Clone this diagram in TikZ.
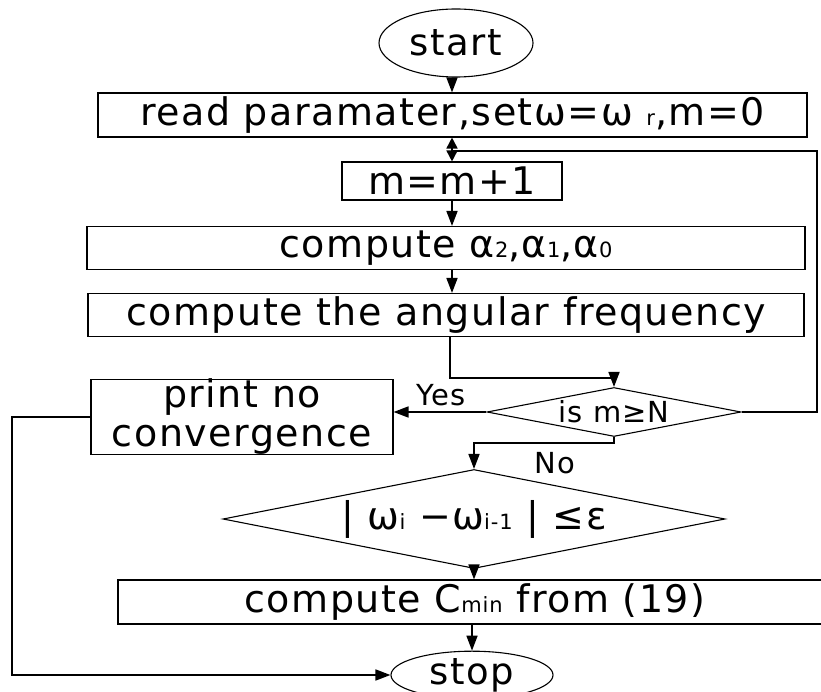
\documentclass[tikz,border=0pt]{standalone}
\usepackage{fontspec}
\setmainfont[LetterSpace=4]{DejaVu Sans}
\usetikzlibrary{shapes.geometric,arrows.meta}

% small lowered index text
\newcommand{\smidx}[1]{{\fontsize{21}{21}\selectfont #1}}

\begin{document}
\begin{tikzpicture}[x=1pt,y=-1pt,
  box/.style={draw, line width=1.1pt, rectangle, inner sep=0pt, align=center,
    font=\fontsize{38}{41}\selectfont},
  term/.style={draw, line width=1.1pt, ellipse, inner sep=0pt,
    font=\fontsize{37}{40}\selectfont},
  decide/.style={draw, line width=1.1pt, diamond, inner sep=0pt},
  flow/.style={line width=1.7pt, -{Triangle[length=15pt,width=11pt]}},
  link/.style={line width=1.7pt},
  tag/.style={font=\fontsize{29}{30}\selectfont}]
\useasboundingbox (0,0) rectangle (821,692);

% terminals
\node[term, minimum width=154pt, minimum height=68pt] (start) at (456,43) {start};
\node[term, minimum width=162pt, minimum height=46pt] (stop) at (472,675) {stop};

% process boxes
\node[box, minimum width=709pt, minimum height=44pt] (read) at (452.5,115)
  {read paramater,setω=ω \smidx{r},m=0};
\node[box, minimum width=220pt, minimum height=38pt] (mbox) at (452,181) {m=m+1};
\node[box, minimum width=718pt, minimum height=43pt] (alpha) at (446,248)
  {compute α\smidx{2},α\smidx{1},α\smidx{0}};
\node[box, minimum width=716pt, minimum height=43pt] (ang) at (446,315)
  {compute the angular frequency};
\node[box, minimum width=302pt, minimum height=58pt] (pbox) at (242,417)
  {print no\\[-2pt]convergence};
\node[box, minimum width=714pt, minimum height=44pt] (cmin) at (475,602)
  {compute C\smidx{min} from (19)};

% decisions
\node[decide, minimum width=254pt, minimum height=49pt,
  label={[tag]center:{is m≥N}}] (d1) at (614,412) {};
\node[decide, minimum width=502pt, minimum height=99pt,
  label={[font=\fontsize{38}{40}\selectfont]center:{| ω\smidx{i} −ω\smidx{i-1} | ≤ε}}]
  (d2) at (474,519) {};

% branch labels
\node[tag] (yes) at (441,395) {Yes};
\node[tag] (no) at (555,463) {No};

% routing points
\coordinate (jn) at (452,151);
\coordinate (rt) at (817,0);
\coordinate (k1) at (450,378);
\coordinate (k2) at (614,443);
\coordinate (k3) at (12,0);

% connectors
\draw[flow] (start.south -| jn) -- (read.north -| jn);
\draw[link, {Triangle[length=11pt,width=11pt]}-{Triangle[length=11pt,width=11pt]}]
  (read.south -| jn) -- (mbox.north -| jn);
\draw[flow] (mbox.south -| jn) -- (alpha.north -| jn);
\draw[flow] (alpha.south -| jn) -- (ang.north -| jn);
\draw[flow] (k1 |- ang.south) -- (k1) -| (d1.north);
\draw[link] (d1.east) -- (d1.east -| rt) -- (rt |- jn) -- (jn);
\draw[flow] (d1.west) -- (d1.west -| pbox.east);
\draw[flow] (d1.south) -- (k2) -| (d2.north);
\draw[flow] (d2.south) -- (d2.south |- cmin.north);
\draw[flow] (cmin.south -| stop) -- (stop.north);
\draw[flow] (pbox.west) -- (pbox.west -| k3) |- (stop.west);
\end{tikzpicture}
\end{document}
